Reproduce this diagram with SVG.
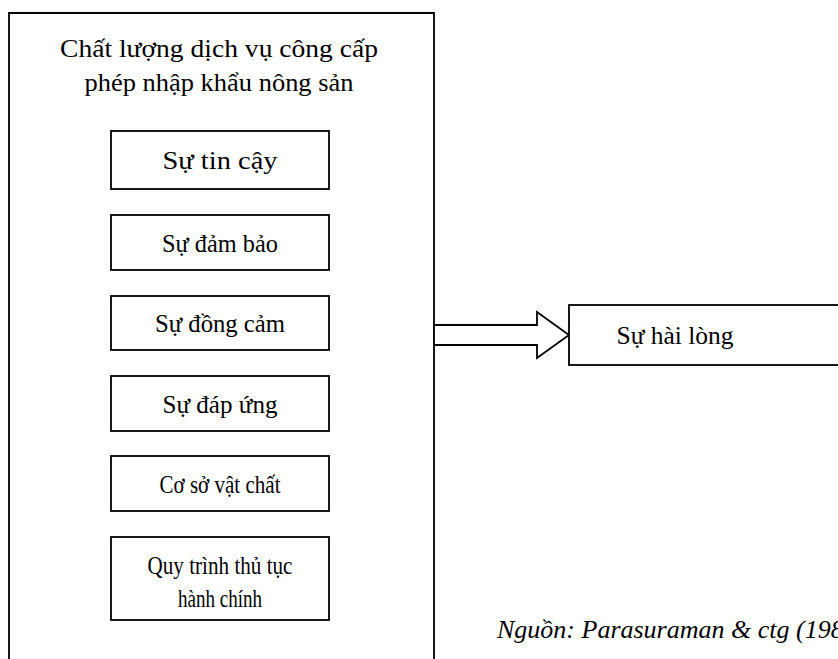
<svg xmlns="http://www.w3.org/2000/svg" width="838" height="659" viewBox="0 0 838 659">
<style>
.box{fill:#fff;stroke:#000;stroke-width:1.8}
.t{font-family:"Liberation Serif","Times New Roman",serif;font-size:26px;fill:#000;text-anchor:middle}
.src{font-family:"Liberation Serif","Times New Roman",serif;font-size:26px;font-style:italic;fill:#000}
</style>
<rect width="838" height="659" fill="#fff"/>
<g id="outer">
<path class="box" d="M9,670 V13 H434 V670"/>
<text class="t" x="219" y="57" textLength="318" lengthAdjust="spacingAndGlyphs">Chất lượng dịch vụ công cấp</text>
<text class="t" x="219" y="91" textLength="269" lengthAdjust="spacingAndGlyphs">phép nhập khẩu nông sản</text>
</g>
<g id="n1"><rect class="box" x="111" y="131" width="218" height="58"/><text class="t" x="220" y="169" textLength="115" lengthAdjust="spacingAndGlyphs">Sự tin cậy</text></g>
<g id="n2"><rect class="box" x="111" y="215" width="218" height="55"/><text class="t" x="220" y="252" textLength="116" lengthAdjust="spacingAndGlyphs">Sự đảm bảo</text></g>
<g id="n3"><rect class="box" x="111" y="296" width="218" height="54"/><text class="t" x="220" y="332" textLength="130" lengthAdjust="spacingAndGlyphs">Sự đồng cảm</text></g>
<g id="n4"><rect class="box" x="111" y="376" width="218" height="55"/><text class="t" x="220" y="413" textLength="115" lengthAdjust="spacingAndGlyphs">Sự đáp ứng</text></g>
<g id="n5"><rect class="box" x="111" y="456" width="218" height="55"/><text class="t" x="220" y="493" textLength="121" lengthAdjust="spacingAndGlyphs">Cơ sở vật chất</text></g>
<g id="n6"><rect class="box" x="111" y="537" width="218" height="83"/><text class="t" x="220" y="574" textLength="145" lengthAdjust="spacingAndGlyphs">Quy trình thủ tục</text><text class="t" x="220" y="607" textLength="84" lengthAdjust="spacingAndGlyphs">hành chính</text></g>
<g id="connectors">
<path class="box" d="M434,325 H537 V312 L569,335 L537,358 V345 H434 Z"/>
</g>
<g id="n7"><rect class="box" x="569" y="305" width="300" height="60"/><text class="t" x="675" y="344" textLength="117" lengthAdjust="spacingAndGlyphs">Sự hài lòng</text></g>
<g id="source"><text class="src" x="497" y="638">Nguồn: Parasuraman &amp; ctg (1988)</text></g>
</svg>
